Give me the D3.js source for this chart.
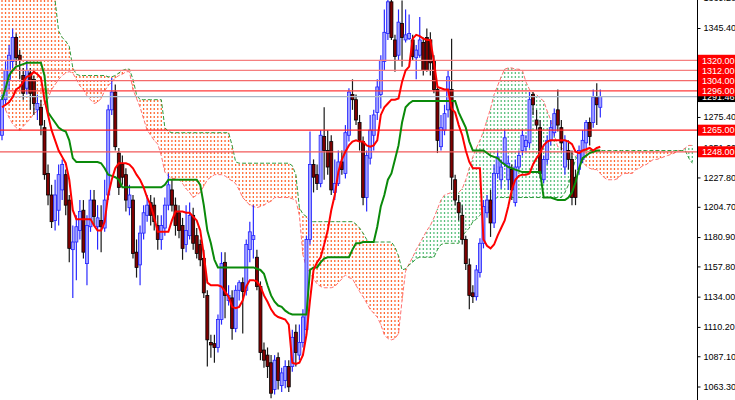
<!DOCTYPE html>
<html><head><meta charset="utf-8">
<script src="https://cdn.jsdelivr.net/npm/d3@7"></script>
<style>body{margin:0;background:#fff}svg{display:block}</style>
</head><body>
<svg id="c" width="735" height="400"></svg>
<script>
// ---- data (XAU daily, Ichimoku) ----
const open=[1261,1289,1305,1319,1338,1324,1308,1298,1310,1305,
1281,1283,1267,1231,1214,1194,1202,1218,1230,1210,
1171,1177,1186,1202,1160,1189,1210,1189,1194,1188,
1214,1281,1295,1247,1238,1230,1204,1210,1169,1159,
1184,1198,1208,1206,1190,1179,1188,1206,1218,1206,
1200,1190,1175,1182,1198,1182,1175,1164,1135,1098,
1097,1094,1116,1161,1131,1133,1109,1139,1145,1139,
1171,1179,1165,1142,1092,1088,1082,1061,1086,1064,
1068,1079,1079,1106,1088,1098,1108,1179,1238,1230,
1223,1260,1249,1256,1216,1223,1240,1231,1261,1293,
1289,1271,1256,1212,1243,1261,1279,1293,1319,1341,
1366,1336,1324,1349,1336,1337,1336,1322,1324,1334,
1338,1336,1319,1297,1252,1265,1281,1297,1226,1208,
1198,1179,1159,1137,1134,1153,1176,1200,1210,1192,
1231,1226,1239,1226,1234,1208,1236,1249,1252,1255,
1293,1273,1267,1226,1242,1257,1263,1281,1267,1236,
1249,1242,1228,1234,1242,1255,1271,1271,1291,1283];
const high=[1293,1319,1332,1345,1341,1328,1314,1320,1314,1308,
1293,1289,1273,1238,1222,1226,1238,1242,1234,1214,
1190,1198,1210,1210,1198,1218,1218,1206,1206,1226,
1285,1306,1301,1251,1245,1235,1222,1214,1179,1190,
1206,1214,1214,1212,1198,1198,1212,1231,1226,1212,
1206,1196,1206,1208,1204,1188,1179,1171,1139,1104,
1104,1120,1169,1169,1143,1139,1143,1147,1149,1179,
1193,1206,1171,1146,1098,1094,1088,1088,1090,1078,
1084,1084,1108,1112,1112,1124,1182,1264,1242,1238,
1265,1283,1265,1261,1242,1249,1249,1269,1298,1305,
1293,1277,1260,1249,1277,1281,1305,1324,1360,1369,
1369,1340,1360,1367,1360,1356,1340,1332,1354,1338,
1345,1342,1324,1301,1277,1285,1312,1337,1230,1214,
1206,1182,1164,1143,1159,1180,1210,1214,1218,1238,
1249,1242,1265,1245,1238,1242,1249,1265,1261,1295,
1295,1281,1273,1245,1261,1273,1282,1297,1273,1261,
1257,1249,1234,1253,1265,1273,1275,1297,1302,1297];
const low=[1257,1285,1297,1314,1316,1305,1289,1293,1281,1277,
1273,1261,1226,1206,1188,1186,1190,1210,1198,1161,
1133,1147,1179,1164,1143,1185,1190,1171,1169,1185,
1210,1277,1249,1214,1222,1201,1198,1164,1149,1143,
1179,1193,1190,1186,1171,1171,1182,1202,1201,1182,
1180,1163,1169,1179,1171,1164,1158,1133,1079,1086,
1082,1090,1112,1117,1127,1100,1106,1131,1105,1135,
1161,1164,1139,1084,1078,1070,1054,1057,1061,1059,
1062,1059,1075,1079,1084,1094,1104,1175,1216,1218,
1220,1226,1230,1214,1210,1221,1230,1227,1256,1281,
1269,1249,1206,1201,1238,1249,1273,1282,1312,1336,
1336,1311,1320,1315,1334,1336,1320,1305,1322,1308,
1311,1308,1294,1247,1249,1261,1275,1218,1206,1194,
1175,1155,1124,1129,1131,1149,1172,1196,1181,1188,
1227,1219,1236,1218,1210,1205,1234,1245,1248,1251,
1277,1265,1227,1223,1238,1253,1260,1264,1249,1230,
1234,1206,1206,1230,1239,1251,1253,1267,1269,1275];
const close=[1289,1312,1324,1338,1322,1320,1294,1312,1294,1286,
1286,1269,1230,1214,1193,1214,1230,1238,1206,1172,
1177,1189,1201,1169,1190,1210,1197,1196,1189,1210,
1281,1295,1252,1220,1228,1210,1214,1168,1157,1184,
1200,1206,1198,1193,1179,1190,1206,1222,1206,1190,
1186,1172,1186,1198,1176,1168,1163,1137,1100,1096,
1094,1116,1160,1135,1135,1109,1139,1145,1138,1175,
1185,1182,1142,1090,1084,1079,1058,1084,1068,1074,
1079,1063,1102,1090,1098,1118,1179,1238,1228,1223,
1261,1249,1236,1218,1223,1240,1234,1263,1295,1289,
1273,1257,1212,1245,1265,1277,1299,1320,1342,1366,
1338,1323,1350,1338,1340,1341,1323,1328,1336,1312,
1312,1318,1297,1257,1267,1278,1307,1228,1210,1200,
1179,1160,1135,1134,1155,1176,1205,1210,1192,1231,
1244,1236,1259,1239,1218,1236,1245,1261,1257,1289,
1285,1269,1231,1242,1257,1267,1278,1269,1255,1257,
1242,1212,1212,1249,1257,1271,1260,1291,1285,1291.46];
const tenkan=[1283,1285,1287,1291,1297,1299,1303,1307,1308,1311,
1309,1306,1289,1277,1265,1257,1249,1244,1239,1226,
1202,1195,1195,1195,1195,1195,1190,1186,1186,1193,
1214,1226,1235,1239,1239,1239,1238,1235,1230,1226,
1220,1212,1206,1196,1185,1185,1185,1185,1194,1201,
1201,1201,1200,1200,1197,1194,1186,1167,1145,1143,
1143,1143,1142,1138,1134,1126,1125,1126,1131,1142,
1147,1147,1146,1142,1135,1130,1124,1120,1118,1117,
1116,1112,1082,1081,1082,1088,1104,1131,1155,1161,
1165,1175,1186,1202,1214,1232,1242,1248,1253,1256,
1257,1256,1256,1253,1252,1253,1257,1277,1283,1286,
1289,1289,1290,1303,1312,1315,1337,1340,1339,1337,
1336,1336,1319,1299,1298,1297,1297,1282,1279,1269,
1261,1249,1240,1235,1235,1235,1179,1174,1172,1175,
1182,1188,1194,1205,1218,1226,1229,1230,1230,1231,
1238,1243,1247,1253,1256,1257,1257,1257,1257,1257,
1256,1254,1248,1247,1249,1250,1251,1249,1251,1252];
const kijun=[1289,1298,1308,1312,1315,1316,1317,1318,1318,1318,
1318,1318,1308,1279,1275,1271,1267,1265,1264,1257,
1243,1240,1240,1240,1240,1240,1240,1240,1239,1235,
1230,1229,1228,1226,1220,1220,1220,1220,1220,1220,
1220,1220,1220,1220,1220,1220,1222,1226,1226,1226,
1226,1226,1226,1226,1226,1226,1222,1206,1186,1176,
1163,1157,1157,1157,1157,1157,1157,1157,1157,1157,
1157,1157,1156,1155,1152,1143,1135,1130,1127,1126,
1123,1121,1120,1120,1120,1120,1120,1155,1157,1157,
1161,1164,1165,1165,1165,1165,1165,1165,1165,1171,
1176,1176,1177,1177,1177,1177,1189,1205,1214,1226,
1231,1242,1253,1271,1283,1286,1288,1288,1288,1288,
1288,1288,1288,1288,1288,1288,1288,1288,1288,1279,
1273,1267,1256,1249,1249,1249,1249,1247,1245,1244,
1243,1240,1238,1236,1235,1234,1233,1232,1232,1232,
1232,1232,1232,1212,1212,1212,1211,1210,1210,1210,
1212,1216,1224,1235,1243,1245,1247,1248,1249,1249];
const spanA=[1285,1281,1275,1270,1267,1265,1268,1271,1274,1278,
1280,1282,1286,1290,1297,1301,1305,1308,1310,1311,
1310,1305,1300,1297,1292,1289,1286,1287,1290,1296,
1300,1303,1306,1308,1309,1311,1311,1297,1290,1283,
1274,1265,1261,1257,1254,1245,1232,1229,1227,1227,
1226,1223,1219,1216,1212,1214,1216,1221,1226,1228,
1230,1230,1230,1229,1227,1225,1223,1218,1212,1209,
1206,1205,1204,1205,1206,1208,1209,1212,1212,1212,
1212,1212,1211,1210,1198,1167,1157,1153,1148,1144,
1142,1141,1141,1141,1142,1145,1148,1151,1149,1148,
1143,1138,1134,1129,1124,1121,1118,1112,1104,1101,
1100,1101,1105,1131,1154,1160,1165,1171,1176,1181,
1186,1190,1196,1203,1210,1214,1215,1216,1216,1216,
1219,1226,1235,1244,1251,1257,1264,1273,1282,1293,
1300,1307,1313,1314,1314,1313,1313,1312,1303,1297,
1294,1293,1290,1288,1280,1273,1261,1252,1251,1249,
1249,1247,1245,1244,1240,1237,1235,1234,1234,1231,
1228,1226,1226,1226,1227,1230,1231,1231,1231,1234,
1235,1237,1238,1240,1242,1242,1243,1244,1245,1246,
1247,1249,1249,1251,1253,1253];
const spanB=[1391,1391,1391,1391,1391,1391,1391,1391,1391,1391,
1391,1391,1391,1391,1374,1367,1343,1338,1335,1331,
1314,1309,1308,1308,1308,1308,1308,1308,1308,1308,
1307,1307,1308,1310,1312,1313,1313,1305,1293,1289,
1289,1289,1289,1289,1289,1289,1267,1264,1263,1263,
1263,1263,1263,1263,1263,1263,1263,1263,1263,1263,
1263,1263,1263,1263,1263,1253,1240,1239,1239,1239,
1239,1239,1239,1239,1239,1239,1239,1239,1239,1239,
1239,1239,1237,1230,1204,1199,1197,1193,1193,1193,
1193,1193,1193,1193,1193,1193,1193,1193,1193,1193,
1191,1188,1184,1179,1177,1177,1177,1177,1177,1177,
1177,1173,1166,1155,1156,1159,1161,1164,1165,1165,
1165,1165,1165,1171,1175,1176,1176,1176,1176,1176,
1182,1185,1188,1193,1195,1198,1201,1203,1205,1211,
1212,1212,1212,1212,1212,1212,1212,1212,1212,1212,
1212,1212,1212,1212,1212,1212,1212,1212,1212,1216,
1222,1232,1242,1246,1248,1249,1249,1249,1249,1249,
1249,1249,1249,1249,1249,1249,1249,1249,1249,1249,
1249,1249,1249,1249,1249,1249,1249,1249,1249,1249,
1249,1249,1249,1249,1243,1239];
const levels=[1320,1312,1304,1296,1265,1248];
const levelColors=["#f58080","#f58080","#f46a6a","#ff3a3a","#ff2020","#f25a5a"];
const lastPrice=1291.46;
const tickValues=[1369.20,1345.40,1275.40,1251.60,1227.80,1204.70,1180.90,1157.80,1134.00,1110.20,1087.10,1063.30];

// ---- drawing ----
const svg=d3.select("#c");
const W=735,H=400,axisX=697;
const x=d3.scaleLinear().domain([0,169]).range([2,600.3]);
const y=d3.scaleLinear().domain([1345.4,1063.3]).range([28,386.5]);

svg.append("rect").attr("width",W).attr("height",H).attr("fill","#fff");
svg.append("defs").append("clipPath").attr("id","clip")
  .append("rect").attr("x",0).attr("y",0).attr("width",axisX).attr("height",H);
const plot=svg.append("g").attr("clip-path","url(#clip)");

// cloud: dotted vertical strokes per bar
const cloudIdx=d3.range(spanA.length);
plot.append("g").selectAll("line").data(cloudIdx).join("line")
  .attr("x1",i=>x(i)).attr("x2",i=>x(i))
  .attr("y1",i=>Math.min(y(spanA[i]),y(spanB[i])))
  .attr("y2",i=>Math.max(y(spanA[i]),y(spanB[i])))
  .attr("stroke",i=>spanA[i]>spanB[i]?"#5cc07e":"#ff6a33")
  .attr("stroke-width",1.3)
  .attr("stroke-dasharray","2,2")
  .attr("stroke-dashoffset",i=>{const t=Math.min(y(spanA[i]),y(spanB[i]));return ((t%4)+4)%4;});

const lineGen=arr=>d3.line().x((d,i)=>x(i)).y(d=>y(d))(arr);
plot.append("path").attr("d",lineGen(spanA)).attr("fill","none")
  .attr("stroke","#ff7070").attr("stroke-width",1).attr("stroke-dasharray","4,2");
plot.append("path").attr("d",lineGen(spanB)).attr("fill","none")
  .attr("stroke","#2e9a3a").attr("stroke-width",1).attr("stroke-dasharray","4,2");

// candles
const idx=d3.range(open.length);
const cg=plot.append("g");
cg.selectAll("line.w").data(idx).join("line").attr("class","w")
  .attr("x1",i=>x(i)).attr("x2",i=>x(i))
  .attr("y1",i=>y(high[i])).attr("y2",i=>y(low[i]))
  .attr("stroke",i=>close[i]>=open[i]?"#2a2aff":"#1a1a1a")
  .attr("stroke-width",1.2);
cg.selectAll("rect").data(idx).join("rect")
  .attr("x",i=>x(i)-1.5).attr("width",3)
  .attr("y",i=>Math.min(y(open[i]),y(close[i])))
  .attr("height",i=>Math.max(1,Math.abs(y(open[i])-y(close[i]))))
  .attr("fill",i=>close[i]>=open[i]?"#a0a0ff":"#800000")
  .attr("stroke",i=>close[i]>=open[i]?"#2020ff":"#000")
  .attr("stroke-width",0.8);

// horizontal levels
plot.append("g").selectAll("line").data(levels).join("line")
  .attr("x1",0).attr("x2",axisX)
  .attr("y1",d=>y(d)).attr("y2",d=>y(d))
  .attr("stroke",(d,i)=>levelColors[i]).attr("stroke-width",1.3);
plot.append("line").attr("x1",0).attr("x2",axisX)
  .attr("y1",y(lastPrice)).attr("y2",y(lastPrice))
  .attr("stroke","#a9b8c8").attr("stroke-width",1.3);

// tenkan / kijun
plot.append("path").attr("d",lineGen(kijun)).attr("fill","none")
  .attr("stroke","#0a8a0a").attr("stroke-width",2);
plot.append("path").attr("d",lineGen(tenkan)).attr("fill","none")
  .attr("stroke","#ff0000").attr("stroke-width",2);

// price axis
svg.append("line").attr("x1",axisX+0.5).attr("x2",axisX+0.5).attr("y1",0).attr("y2",H)
  .attr("stroke","#000").attr("stroke-width",1);
const ax=svg.append("g").attr("transform",`translate(${axisX+0.5},0)`)
  .call(d3.axisRight(y).tickValues(tickValues).tickSize(3).tickPadding(3).tickFormat(d=>d.toFixed(2)));
ax.select(".domain").remove();
ax.selectAll("text").attr("font-family","Liberation Sans, Arial, sans-serif").attr("font-size",9).attr("fill","#000");
ax.selectAll("line").attr("stroke","#000");

// price labels
function tag(v,bg){
  const g=svg.append("g").attr("transform",`translate(698,${y(v)})`);
  g.append("rect").attr("x",0).attr("y",-5.5).attr("width",37).attr("height",11).attr("fill",bg);
  g.append("text").attr("x",4).attr("y",3.3).attr("fill","#fff")
    .attr("font-family","Liberation Sans, Arial, sans-serif").attr("font-size",9)
    .text(v.toFixed(2));
}
tag(lastPrice,"#000");
levels.forEach(v=>tag(v,"#ff0000"));
</script>
</body></html>
